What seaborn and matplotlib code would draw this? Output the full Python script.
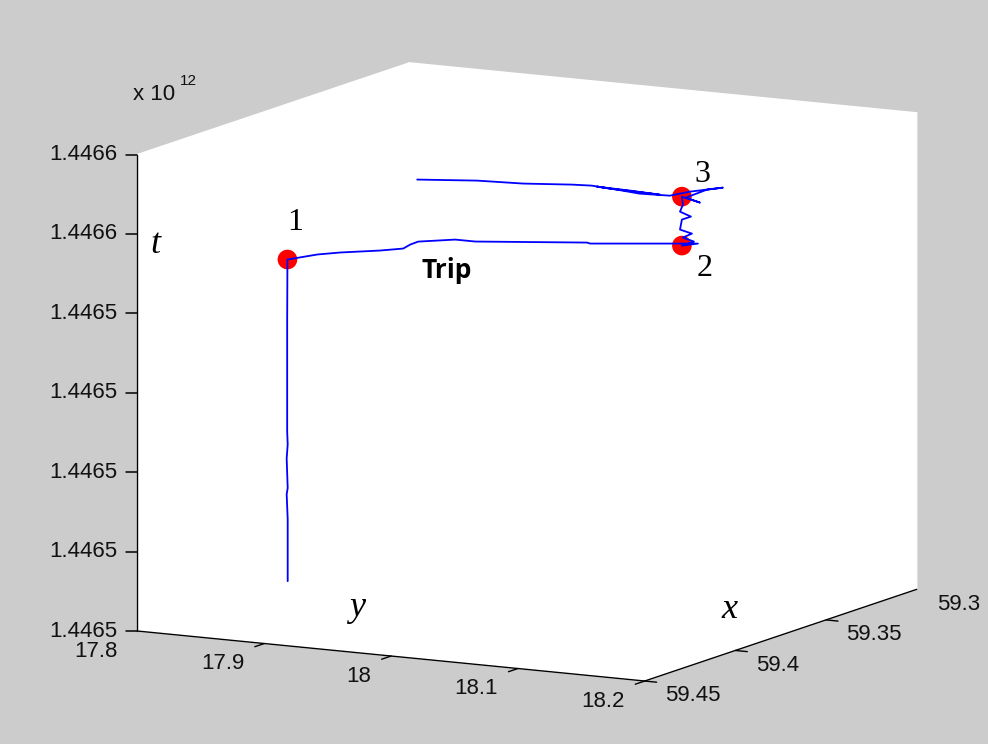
import numpy as np
import pandas as pd
import seaborn as sns
import matplotlib
matplotlib.use('Agg')
from matplotlib import pyplot as plt
from matplotlib.lines import Line2D
from matplotlib.transforms import IdentityTransform

# TRAJETORIA: longitude (eixo y), latitude (eixo x), tempo em ms (eixo t)
lon = [17.8470, 17.8470, 17.8462, 17.8470, 17.8462, 17.8470, 17.8466, 17.8466, 17.8468,
       17.8593, 17.8722, 17.8974, 17.9104, 17.9082, 17.9086, 17.9316, 17.9496, 18.0320,
       18.0360, 18.0957, 18.1114, 18.1058,
       18.1153, 18.1066, 18.1137, 18.1043, 18.1058, 18.1129, 18.1043, 18.1066, 18.1058,
       18.1296, 18.1134, 18.1147, 18.1237, 18.1137, 18.1116, 18.0925, 18.0741, 18.0594,
       18.0882, 18.1151, 18.0767, 18.0632, 18.0520, 18.0246, 17.9969, 17.9657]
lat = [59.4000, 59.4000, 59.4000, 59.4000, 59.4000, 59.4000, 59.4000, 59.4000, 59.4000,
       59.3922, 59.3886, 59.3842, 59.3806, 59.3752, 59.3711, 59.3668, 59.3683, 59.3643,
       59.3654, 59.3615, 59.3587, 59.3636,
       59.3636, 59.3636, 59.3636, 59.3636, 59.3636, 59.3636, 59.3636, 59.3636, 59.3636,
       59.3703, 59.3668, 59.3560, 59.3535, 59.3647, 59.3743, 59.3775, 59.3773, 59.3780,
       59.3799, 59.3823, 59.3829, 59.3834, 59.3866, 59.3944, 59.4004, 59.4116]
t_ms = [1446503170000, 1446511000000, 1446514100000, 1446514900000, 1446518600000,
        1446520400000, 1446522000000, 1446536100000, 1446543670000,
        1446543900000, 1446544077000, 1446544383000, 1446544560000, 1446544614000,
        1446544675000, 1446544959000, 1446545112000, 1446545971000, 1446545994000,
        1446546631000, 1446546660000, 1446546700000,
        1446547350000, 1446547720000, 1446548330000, 1446548690000, 1446549970000,
        1446550460000, 1446550950000, 1446551870000, 1446552860000,
        1446553000000, 1446553100000, 1446553300000, 1446553500000, 1446553700000,
        1446553900000, 1446554100000, 1446554300000, 1446554500000, 1446554600000,
        1446554700000, 1446554900000, 1446555100000, 1446555300000, 1446555600000,
        1446556000000, 1446556500000]

# PARADAS
stop_lon = [17.8468, 18.1058, 18.1058]
stop_lat = [59.4000, 59.3636, 59.3636]
stop_t = [1446543670000, 1446546700000, 1446552860000]
stop_names = ['1', '2', '3']

# EIXOS
lon_ticks = [17.8, 17.9, 18.0, 18.1, 18.2]
lon_labels = ['17.8', '17.9', '18', '18.1', '18.2']
lat_ticks = [59.3, 59.35, 59.4, 59.45]
lat_labels = ['59.3', '59.35', '59.4', '59.45']
t_ticks = [1446500000000, 1446510000000, 1446520000000, 1446530000000,
           1446540000000, 1446550000000, 1446560000000]
t_labels = ['1.4465', '1.4465', '1.4465', '1.4465', '1.4465', '1.4466', '1.4466']

trip = pd.DataFrame({'lon': lon, 'lat': lat, 't': t_ms})

sns.set_style('white')
plt.rcParams['font.family'] = ['Liberation Sans', 'DejaVu Sans']

cinza = '#cccccc'
cor_txt = '#111111'
fs_tick = 16
fig = plt.figure(figsize=(9.88, 7.44), dpi=100, facecolor=cinza)
ax = fig.add_axes([23 / 988, -10 / 744, 1.0, 1.0], projection='3d', proj_type='ortho')
ax.set_facecolor(cinza)
ax.patch.set_visible(False)

lon_lim = (lon_ticks[0], lon_ticks[-1])
lat_lim = (lat_ticks[-1], lat_ticks[0])
t_lim = (t_ticks[0], t_ticks[-1])

# esconde a aresta do fundo entre os dois planos
ax.plot([lon_lim[0], lon_lim[0]], [lat_lim[1], lat_lim[1]], [t_lim[0], t_lim[1]],
        color='white', lw=2)

ax.plot(trip['lon'], trip['lat'], trip['t'], color='#0000ff', lw=1.3)
ax.scatter(stop_lon, stop_lat, stop_t, s=200, c='#ff0000', depthshade=False,
           edgecolors='none', alpha=1)

ax.set_xlim(*lon_lim)
ax.set_ylim(*lat_lim)
ax.set_zlim(*t_lim)
ax.set_xticks([])
ax.set_yticks([])
ax.set_zticks([])

ax.view_init(elev=10.5, azim=-61.6)
ax.set_box_aspect((1.19, 1.18, 1.0), zoom=1.234)
ax.grid(False)
ax.zaxis.set_ticks_position('upper')

for eixo in (ax.xaxis, ax.yaxis, ax.zaxis):
    eixo.set_pane_color((1, 1, 1, 1))
    eixo.pane.set_edgecolor('white')
    eixo.pane.set_linewidth(1.0)
    eixo.line.set_color('black')
    eixo.line.set_linewidth(1.0)

z0 = t_lim[0]
for v in lon_ticks:
    ax.plot([v, v], [lat_lim[0], lat_lim[0] + 0.0052], [z0, z0], color='black', lw=1)
for v in lat_ticks:
    ax.plot([lon_lim[1], lon_lim[1] + 0.0094], [v, v], [z0, z0], color='black', lw=1)

fig.text(133 / 988, 1 - 100 / 744, 'x 10', fontsize=fs_tick, color=cor_txt,
         va='baseline')
fig.text(180 / 988, 1 - 85 / 744, '12', fontsize=11, color=cor_txt, va='baseline')
for txt, px, py in [('t', 150, 253), ('y', 349, 616), ('x', 721, 618)]:
    fig.text(px / 988, 1 - py / 744, txt, fontsize=26, style='italic', color='black',
             family='Liberation Serif', va='baseline')
for txt, px, py in zip(stop_names, [287, 697, 694], [230, 276, 182]):
    fig.text(px / 988, 1 - py / 744, txt, fontsize=23, color='black',
             family='Liberation Serif', va='baseline')
fig.text(421 / 988, 1 - 278 / 744, 'Trip', fontsize=19, fontweight='bold',
         color='black', family='Open Sans', va='baseline')

# projeta posicoes 3D para a figura (rotulos e ticks do eixo t ficam em 2D)
fig.canvas.draw()
M = ax.M
para_fig = fig.transFigure.inverted()


def projeta(x, y, z):
    vec = M @ np.array([x, y, float(z), 1.0])
    return ax.transData.transform((vec[0] / vec[3], vec[1] / vec[3]))


def rotulo(x, y, z, s, ha, va):
    fx, fy = para_fig.transform(projeta(x, y, z))
    fig.text(fx, fy, s, ha=ha, va=va, fontsize=fs_tick, color=cor_txt)


for v, s in zip(lon_ticks, lon_labels):
    rotulo(v, lat_lim[0] + 0.011, z0 - 0.4e6, s, 'right', 'top')
for v, s in zip(lat_ticks, lat_labels):
    rotulo(lon_lim[1] + 0.016, v, z0 - 1.6e6, s, 'left', 'center')
for v, s in zip(t_ticks, t_labels):
    rotulo(lon_lim[0] - 0.0157, lat_lim[0], v - 0.25e6, s, 'right', 'center')
    px, py = projeta(lon_lim[0], lat_lim[0], v)
    fig.add_artist(Line2D([px - 11, px], [py, py], transform=IdentityTransform(),
                          color='black', lw=1.1))

fig.savefig('out.png', dpi=100, facecolor=cinza)
